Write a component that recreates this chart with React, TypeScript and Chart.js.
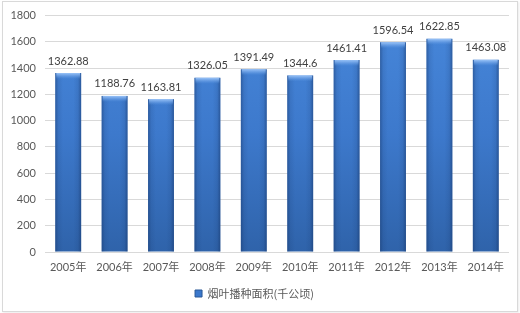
import React, { useEffect, useRef } from "react";
import { Chart, registerables } from "chart.js";

Chart.register(...registerables);

const categories = ["2005年", "2006年", "2007年", "2008年", "2009年", "2010年", "2011年", "2012年", "2013年", "2014年"];
const areaValues = [1362.88, 1188.76, 1163.81, 1326.05, 1391.49, 1344.6, 1461.41, 1596.54, 1622.85, 1463.08];
const seriesName = "烟叶播种面积(千公顷)";
const yMin = 0;
const yMax = 1800;
const yStep = 200;

const FONT = "Lato, 'Noto Sans CJK SC', sans-serif";
const BASE_BLUE = "#3b78cc";

const barTopPlugin = {
  id: "barTop",
  afterDatasetsDraw(chart: any) {
    const ctx = chart.ctx;
    const meta = chart.getDatasetMeta(0);
    ctx.save();
    meta.data.forEach((el: any, i: number) => {
      const w = el.width;
      const x0 = el.x - w / 2;
      const h = el.base - el.y;
      // edge shading
      const gl = ctx.createLinearGradient(x0, 0, x0 + w, 0);
      gl.addColorStop(0, "rgba(20,50,100,0.45)");
      gl.addColorStop(0.12, "rgba(20,50,100,0.12)");
      gl.addColorStop(0.3, "rgba(20,50,100,0)");
      gl.addColorStop(0.7, "rgba(20,50,100,0)");
      gl.addColorStop(0.88, "rgba(20,50,100,0.12)");
      gl.addColorStop(1, "rgba(20,50,100,0.5)");
      ctx.fillStyle = gl;
      ctx.fillRect(x0, el.y, w, h);
      // top bevel highlight
      const g = ctx.createLinearGradient(0, el.y, 0, el.y + 6);
      g.addColorStop(0, "rgba(160,200,250,0.95)");
      g.addColorStop(0.5, "rgba(120,170,235,0.6)");
      g.addColorStop(1, "rgba(90,150,225,0)");
      ctx.fillStyle = g;
      ctx.fillRect(x0 + 1, el.y, w - 2, 6);
      // value label
      ctx.fillStyle = "#404040";
      ctx.font = "11px " + FONT;
      ctx.textAlign = "center";
      ctx.textBaseline = "middle";
      ctx.fillText(String(areaValues[i]), el.x, el.y - 12);
    });
    ctx.restore();
  },
};

export default function App() {
  const ref = useRef<HTMLCanvasElement | null>(null);

  useEffect(() => {
    document.body.style.margin = "0";
    const canvas = ref.current;
    if (!canvas) return;
    const chart = new Chart(canvas, {
      type: "bar",
      data: {
        labels: categories,
        datasets: [
          {
            label: seriesName,
            data: areaValues,
            barPercentage: 0.9,
            categoryPercentage: 0.62,
            borderWidth: 0,
            backgroundColor: (c: any) => {
              const ch = c.chart;
              const area = ch.chartArea;
              if (c.type !== "data" || !area) return BASE_BLUE;
              const g = ch.ctx.createLinearGradient(0, area.top, 0, area.bottom);
              g.addColorStop(0, "#4787da");
              g.addColorStop(0.5, "#3d79cc");
              g.addColorStop(1, "#2f63aa");
              return g;
            },
          },
        ],
      },
      options: {
        animation: false,
        responsive: false,
        maintainAspectRatio: false,
        layout: { padding: { top: 15, right: 11, bottom: 4, left: 0 } },
        plugins: {
          legend: {
            position: "bottom",
            labels: {
              boxWidth: 7,
              boxHeight: 7,
              padding: 10,
              color: "#595959",
              font: { size: 11, family: "'Noto Sans CJK SC', sans-serif" },
              generateLabels: () => [
                { text: seriesName, fillStyle: BASE_BLUE, strokeStyle: "#2a5897", lineWidth: 1, datasetIndex: 0, fontColor: "#595959" } as any,
              ],
            },
          },
          tooltip: { enabled: false },
        },
        scales: {
          x: {
            grid: { display: false, drawTicks: false },
            border: { display: false },
            ticks: { color: "#595959", font: { size: 11, family: FONT }, padding: 9, maxRotation: 0 },
            afterFit: (s: any) => {
              s.height = 26;
            },
          },
          y: {
            min: yMin,
            max: yMax,
            ticks: {
              stepSize: yStep,
              color: "#595959",
              font: { size: 11, family: FONT },
              padding: 9,
              callback: (v: any) => String(v),
            },
            grid: { color: "#d9d9d9", lineWidth: 1, drawTicks: false },
            border: { display: false },
            afterFit: (s: any) => {
              s.width = 45;
            },
          },
        },
      },
      plugins: [barTopPlugin],
    });
    return () => chart.destroy();
  }, []);

  return (
    <div style={{ position: "relative", width: 520, height: 313, background: "#fff" }}>
      <div
        style={{
          position: "absolute",
          left: 2,
          top: 1,
          width: 514,
          height: 309,
          border: "1px solid #d9d9d9",
          boxShadow: "1px 1px 2px rgba(0,0,0,0.08)",
          pointerEvents: "none",
        }}
      />
      <canvas ref={ref} width={520} height={313} style={{ position: "absolute", left: 0, top: 0 }} />
    </div>
  );
}
